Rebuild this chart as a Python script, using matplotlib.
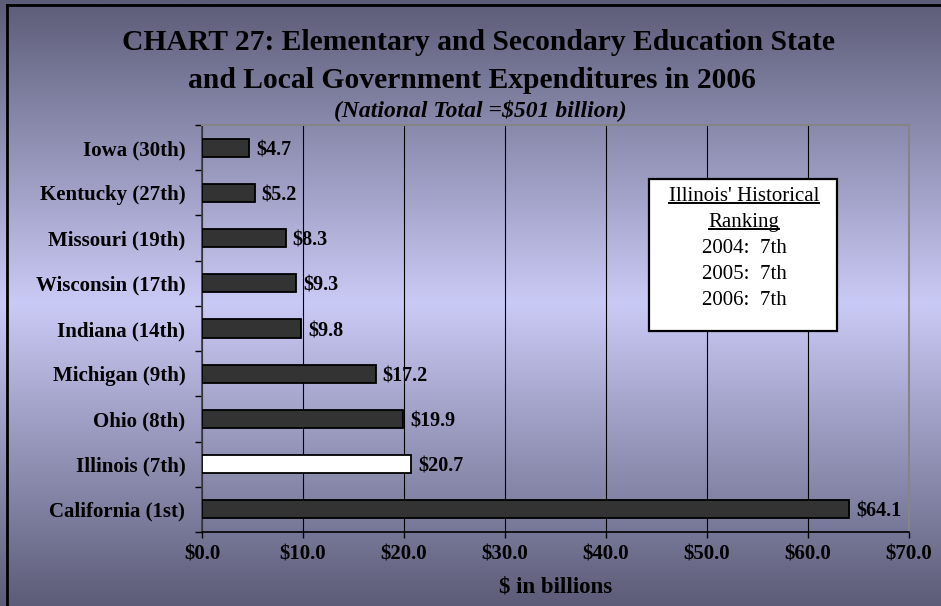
import numpy as np
import matplotlib
matplotlib.use("Agg")
import matplotlib.pyplot as plt
from matplotlib.patches import Rectangle
from matplotlib.lines import Line2D

plt.rcParams['font.family'] = ['Liberation Serif', 'DejaVu Serif']

# spending by state, 2006 ($ billions), bottom to top
states = ["California (1st)", "Illinois (7th)", "Ohio (8th)", "Michigan (9th)",
          "Indiana (14th)", "Wisconsin (17th)", "Missouri (19th)",
          "Kentucky (27th)", "Iowa (30th)"]
spending = [64.1, 20.7, 19.9, 17.2, 9.8, 9.3, 8.3, 5.2, 4.7]
highlight = "Illinois (7th)"
xticks = [0, 10, 20, 30, 40, 50, 60, 70]

history_title = ["Illinois' Historical", "Ranking"]
history_years = [2004, 2005, 2006]
history_ranks = ["7th", "7th", "7th"]

W, H = 941, 606
fig = plt.figure(figsize=(W / 100, H / 100), dpi=100)


def fx(px):
    return px / W


def fy(py):
    return 1 - py / H


# background: dark at top and bottom, light lavender in the middle
bg = fig.add_axes([0, 0, 1, 1], zorder=-10)
t = np.linspace(0, 1, 400)
dark = np.array([92, 92, 120]) / 255
light = np.array([202, 202, 246]) / 255
w = 1 - np.abs(t - 0.5) * 2
grad = dark[None, :] * (1 - w[:, None]) + light[None, :] * w[:, None]
bg.imshow(grad[:, None, :], aspect='auto', extent=[0, 1, 0, 1], origin='upper')
bg.axis('off')

# chart border (left and top edge visible)
fig.add_artist(Line2D([fx(7), fx(7)], [fy(5), 0], color='black', lw=2))
fig.add_artist(Line2D([fx(7), 1], [fy(5), fy(5)], color='black', lw=2))

# titles
fig.text(fx(478), fy(42), "CHART 27: Elementary and Secondary Education State",
         ha='center', va='center', fontsize=21.3, fontweight='bold')
fig.text(fx(472), fy(80), "and Local Government Expenditures in 2006",
         ha='center', va='center', fontsize=21.3, fontweight='bold')
fig.text(fx(480), fy(110), "(National Total =$501 billion)",
         ha='center', va='center', fontsize=17, fontweight='bold', style='italic')

ax = fig.add_axes([fx(202), fy(532), fx(909) - fx(202), fy(125) - fy(532)])
ax.patch.set_alpha(0)
y = np.arange(len(states))
colors = ['white' if s == highlight else '#333333' for s in states]
ax.barh(y, spending, height=0.4, color=colors, edgecolor='black', lw=1.3, zorder=3)

for yi, v in zip(y, spending):
    ax.annotate(f"${v:.1f}", (v, yi), xytext=(5, 0), textcoords='offset points',
                ha='left', va='center_baseline', fontsize=14.5, fontweight='bold')

ax.set_xlim(0, 70)
ax.set_ylim(-0.5, len(states) - 0.5)
ax.set_xticks(xticks)
ax.set_xticklabels([f"${v:.1f}" for v in xticks], fontsize=15, fontweight='bold')
ax.set_yticks(y)
ax.set_yticklabels(states, fontsize=15, fontweight='bold')
ax.set_yticks(np.arange(-0.5, len(states), 1), minor=True)
ax.tick_params(axis='y', which='major', length=0, pad=12)
ax.tick_params(axis='y', which='minor', length=5, width=1, direction='out')
ax.tick_params(axis='x', length=4, width=1, direction='out', pad=5)
ax.set_xlabel("$ in billions", fontsize=16.5, fontweight='bold', labelpad=9)

ax.grid(axis='x', color='black', lw=0.8, zorder=1)
for side in ['top', 'right']:
    ax.spines[side].set_color('#858585')
    ax.spines[side].set_linewidth(1.5)
ax.spines['left'].set_color('#404040')
ax.spines['left'].set_linewidth(1.2)
ax.spines['bottom'].set_color('black')
ax.spines['bottom'].set_linewidth(1.2)

# ranking box
fig.add_artist(Rectangle((fx(649), fy(331)), fx(837) - fx(649), (331 - 179) / H,
                         facecolor='white', edgecolor='black', lw=1.6, zorder=5))
lines = history_title + [f"{yr}:  {rk}" for yr, rk in zip(history_years, history_ranks)]
baselines = [201, 227, 253, 279, 305]
texts = []
for txt, b in zip(lines, baselines):
    texts.append(fig.text(fx(744), fy(b), txt, ha='center', va='baseline',
                          fontsize=15, zorder=6))

fig.canvas.draw()
for txt, b in zip(texts[:2], baselines[:2]):
    bb = txt.get_window_extent()
    fig.add_artist(Line2D([bb.x0 / W, bb.x1 / W], [fy(b + 2), fy(b + 2)],
                          color='black', lw=1.4, zorder=6))

fig.savefig("out.png", dpi=100)
